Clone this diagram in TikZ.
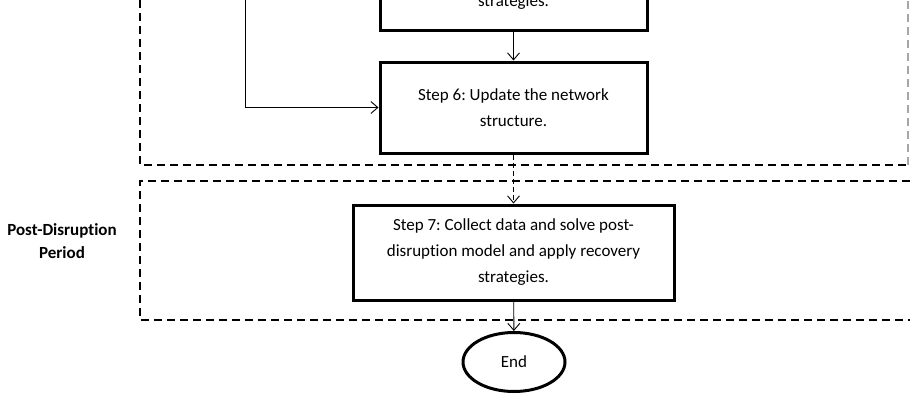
\documentclass[tikz,border=0pt]{standalone}
\usepackage{fontspec}
\setmainfont{Carlito}[Ligatures=NoCommon]
\usetikzlibrary{arrows.meta,shapes.geometric}
\frenchspacing

\begin{document}
\begin{tikzpicture}[x=1pt,y=-1pt,
  every node/.style={font=\fontsize{17}{26}\selectfont},
  stepbox/.style={draw,line width=3pt,align=center,inner sep=0pt},
  flow/.style={-{Straight Barb[length=7pt,width=12pt]},line width=0.9pt},
  period/.style={line width=1.4pt,dash pattern=on 8pt off 5pt}]
  \clip (0,0) rectangle (910,394);
  % periods
  \draw[period] (140,0) -- (140,165) -- (908,165);
  \draw[period,gray!70] (908,165) -- (908,0);
  \draw[period] (910,181) -- (140,181) -- (140,320) -- (910,320);
  \node[font=\fontsize{17}{23}\selectfont\bfseries,align=center] (post) at (62,241) {Post-Disruption\\Period};
  % steps
  \node[stepbox,anchor=south,minimum width=267pt,minimum height=60pt,text height=12pt,text depth=0pt] (step5) at (513.5,32) {strategies.};
  \node[stepbox,minimum width=267pt,minimum height=91pt] (step6) at (513.5,107.5) {Step 6: Update the network\\structure.};
  \node[stepbox,minimum width=321pt,minimum height=95pt] (step7) at (513.5,252.5) {Step 7: Collect data and solve post-\\disruption model and apply recovery\\strategies.};
  \node[draw,ellipse,line width=3pt,minimum width=102pt,minimum height=59pt] (stop) at (514,362) {End};
  \coordinate (back) at (245,-2);
  \draw[flow] (step5) -- (step6);
  \draw[flow] (back) |- (step6.west);
  \draw[flow,dash pattern=on 5pt off 3pt] (step6) -- (step7);
  \draw[flow] (step7) -- (stop);
\end{tikzpicture}
\end{document}
